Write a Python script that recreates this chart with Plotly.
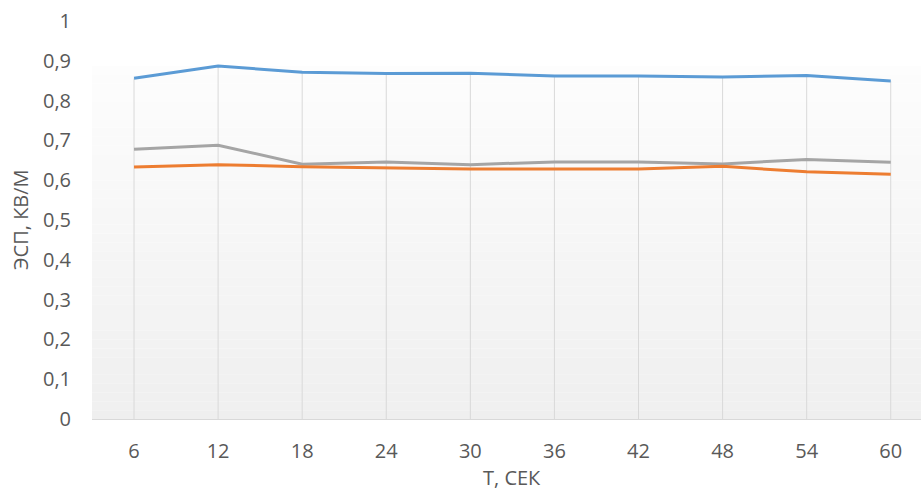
import plotly.graph_objects as go

# Time points, s
categories = ["6", "12", "18", "24", "30", "36", "42", "48", "54", "60"]

# Measured electrostatic field, kV/m
series_blue = [0.856, 0.887, 0.871, 0.868, 0.869, 0.862, 0.862, 0.859, 0.863, 0.849]
series_orange = [0.633, 0.639, 0.634, 0.631, 0.628, 0.628, 0.628, 0.635, 0.621, 0.615]
series_gray = [0.678, 0.688, 0.640, 0.646, 0.639, 0.646, 0.646, 0.641, 0.652, 0.645]

y_tickvals = [0, 0.1, 0.2, 0.3, 0.4, 0.5, 0.6, 0.7, 0.8, 0.9, 1.0]
y_ticktext = ["0", "0,1", "0,2", "0,3", "0,4", "0,5", "0,6", "0,7", "0,8", "0,9", "1"]

x_title = "Т, СЕК"
y_title = "ЭСП, КВ/М"

FONT = "Open Sans"
TEXT = "#595959"
GRID = "#d9d9d9"

fig = go.Figure()

# Drop lines from the highest point at each time down to the axis
drop_x, drop_y = [], []
for c, a, b, g in zip(categories, series_blue, series_orange, series_gray):
    drop_x += [c, c, None]
    drop_y += [0, max(a, b, g), None]
fig.add_trace(go.Scatter(x=drop_x, y=drop_y, mode="lines",
                         line=dict(color=GRID, width=1),
                         hoverinfo="skip", showlegend=False))

for vals, col in [(series_blue, "#5B9BD5"),
                  (series_gray, "#A5A5A5"),
                  (series_orange, "#ED7D31")]:
    fig.add_trace(go.Scatter(x=categories, y=vals, mode="lines",
                             line=dict(color=col, width=3),
                             showlegend=False))

# Soft vertical gradient behind the plot
shapes = []
n = 40
top = 0.887
for i in range(n):
    y0 = top * i / n
    y1 = top * (i + 1) / n
    t = (i + 0.5) / n
    v = int(round(239 + (253 - 239) * t))
    shapes.append(dict(type="rect", xref="x domain", yref="y domain",
                       x0=0, x1=1, y0=y0, y1=y1, layer="below",
                       line=dict(width=0),
                       fillcolor=f"rgb({v},{v},{v})"))

fig.update_layout(
    width=921, height=493,
    margin=dict(l=92, r=0, t=21, b=74),
    paper_bgcolor="white", plot_bgcolor="white",
    font=dict(family=FONT, size=20, color=TEXT),
    shapes=shapes,
    showlegend=False,
)

fig.update_xaxes(
    type="category", categoryorder="array", categoryarray=categories,
    range=[-0.5, 9.36],
    showgrid=False, zeroline=False,
    showline=True, linecolor=GRID, linewidth=1,
    ticks="", ticklabelstandoff=14,
    tickfont=dict(family=FONT, size=20, color=TEXT),
)
fig.update_yaxes(
    range=[0, 1], tickvals=y_tickvals, ticktext=y_ticktext,
    showgrid=False, zeroline=False, showline=False,
    ticks="", ticklabelstandoff=20,
    tickfont=dict(family=FONT, size=20, color=TEXT),
)

fig.add_annotation(text=x_title, xref="x", yref="paper",
                   x=4.5, y=-74 / 398, yanchor="bottom", xanchor="center",
                   showarrow=False,
                   font=dict(family=FONT, size=20, color=TEXT))
fig.add_annotation(text=y_title, xref="paper", yref="y",
                   x=-72 / 829, y=0.5, xanchor="center", yanchor="middle",
                   textangle=-90, showarrow=False,
                   font=dict(family=FONT, size=20, color=TEXT))

fig.write_html("out.html")
